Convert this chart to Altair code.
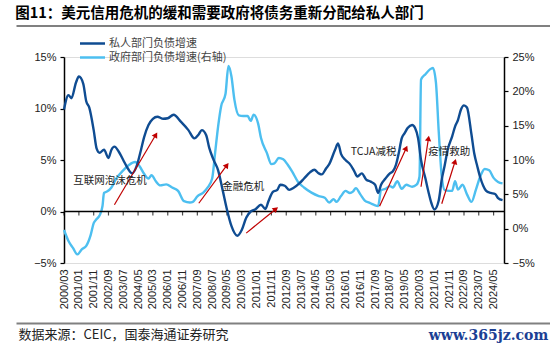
import math
import pandas as pd
import altair as alt

# ---------------- data ----------------
private_months = ["2000/03","2000/06","2000/08","2000/11","2001/01","2001/04","2001/06","2001/08","2001/11","2002/01",
                  "2002/03","2002/06","2002/09","2002/11","2003/01","2003/04","2003/07","2003/10","2004/01","2004/04",
                  "2004/07","2004/09","2004/12","2005/03","2005/06","2005/10","2006/01","2006/05","2006/10","2007/03",
                  "2007/07","2007/10","2007/12","2008/03","2008/05","2008/08","2008/11","2009/02","2009/05","2009/08",
                  "2009/12","2010/03","2010/06","2010/09","2010/12","2011/04","2011/07","2011/09","2011/12","2012/03",
                  "2012/05","2012/08","2012/11","2013/02","2013/06","2013/09","2014/01","2014/04","2014/07","2014/09",
                  "2014/12","2015/02","2015/06","2015/08","2015/10","2016/01","2016/04","2016/07","2016/09","2016/12",
                  "2017/03","2017/06","2017/09","2017/11","2018/01","2018/04","2018/07","2018/09","2018/11","2019/01",
                  "2019/03","2019/05","2019/07","2019/10","2019/12","2020/02","2020/04","2020/07","2020/09","2020/11",
                  "2021/01","2021/04","2021/06","2021/08","2021/10","2022/01","2022/03","2022/05","2022/07","2022/09",
                  "2022/11","2023/02","2023/04","2023/06","2023/08","2023/10","2023/12","2024/03","2024/06","2024/08",
                  "2024/11"]
private_values = [9.9,11.3,11.0,12.5,13.1,12.4,10.7,10.1,7.9,6.1,
                  5.7,6.0,5.2,6.0,6.3,5.8,5.0,4.2,3.7,4.4,
                  6.0,7.2,8.4,9.0,9.2,9.0,9.05,9.4,8.7,7.9,
                  7.1,7.5,7.9,7.4,6.2,5.0,4.0,2.1,0.2,-1.4,
                  -2.35,-1.8,-0.6,0.0,0.2,0.65,0.25,1.0,1.9,2.1,
                  2.6,2.5,2.1,2.3,2.75,3.2,3.8,4.05,3.7,3.6,
                  4.2,4.6,6.0,6.6,5.6,5.0,4.6,3.9,3.4,3.7,
                  3.1,2.9,2.6,1.8,2.6,3.2,3.7,3.9,4.5,5.7,
                  7.1,7.6,8.1,8.4,8.1,7.1,5.0,3.2,1.9,0.8,
                  0.2,1.1,3.1,4.5,6.0,7.3,8.25,8.9,9.9,10.3,
                  10.1,7.5,5.6,4.4,3.3,2.5,2.0,1.8,1.7,1.3,
                  1.1]

gov_months = ["2000/03","2000/06","2000/09","2000/12","2001/03","2001/06","2001/09","2001/11","2002/01","2002/03",
              "2002/05","2002/06","2002/08","2002/11","2003/02","2003/07","2003/11","2004/03","2004/06","2004/09",
              "2004/12","2005/02","2005/05","2005/08","2005/12","2006/04","2006/08","2006/12","2007/04","2007/06",
              "2007/09","2008/01","2008/04","2008/07","2008/09","2008/11","2009/01","2009/04","2009/06","2009/08",
              "2009/10","2010/01","2010/04","2010/07","2010/09","2010/11","2011/02","2011/04","2011/08","2011/11",
              "2012/01","2012/04","2012/07","2012/10","2013/01","2013/05","2013/09","2014/02","2014/07","2014/11",
              "2015/02","2015/05","2015/07","2015/10","2016/01","2016/04","2016/06","2016/08","2016/11","2017/02",
              "2017/05","2017/08","2017/11","2018/01","2018/04","2018/07","2018/09","2018/12","2019/03","2019/06",
              "2019/10","2020/01","2020/03","2020/04","2020/07","2020/10","2020/12","2021/02","2021/04","2021/06",
              "2021/08","2021/11","2022/01","2022/03","2022/05","2022/08","2022/11","2023/02","2023/05","2023/08",
              "2023/11","2024/02","2024/05","2024/08","2024/11"]
gov_values = [-0.2,-1.8,-2.8,-3.75,-3.0,-2.5,-0.9,0.8,1.4,1.9,
              3.3,5.2,5.4,6.0,7.2,8.5,9.3,9.7,9.1,8.0,
              7.3,7.8,6.9,6.3,6.45,6.0,5.5,4.0,3.8,3.9,
              4.7,5.25,6.0,7.3,11.1,14.9,17.8,19.6,23.7,22.2,
              18.8,16.5,16.4,16.4,15.7,16.6,15.3,13.2,11.0,9.4,
              9.5,10.3,10.1,9.3,8.3,6.8,6.0,5.25,4.75,4.5,
              3.8,4.3,3.9,4.75,5.5,5.2,5.4,5.9,5.0,4.1,
              3.8,3.5,3.3,5.6,5.8,6.2,6.0,6.9,5.8,6.4,
              6.1,6.4,7.6,21.7,22.5,23.2,23.4,21.3,14.0,7.6,
              5.6,5.5,5.5,6.9,5.7,6.4,5.0,3.9,5.6,7.6,
              8.7,8.5,7.4,6.8,6.6]

tick_labels = ["2000/03","2001/01","2001/11","2002/09","2003/07","2004/05","2005/03","2006/01","2006/11","2007/09",
               "2008/07","2009/05","2010/03","2011/01","2011/11","2012/09","2013/07","2014/05","2015/03","2016/01",
               "2016/11","2017/09","2018/07","2019/05","2020/03","2021/01","2021/11","2022/09","2023/07","2024/05"]

note_texts = ["互联网泡沫危机", "金融危机", "TCJA减税", "疫情救助"]
note_months = ["2002/10", "2010/04", "2017/08", "2021/11"]
note_values = [3.0, 2.4, 5.8, 5.8]

arrow_start_months = ["2003/01", "2007/10", "2010/06", "2017/12", "2020/04", "2021/06"]
arrow_start_values = [0.65, 0.8, -2.1, 0.5, 2.4, 0.75]
arrow_end_months = ["2005/05", "2009/05", "2012/02", "2019/06", "2020/09", "2022/03"]
arrow_end_values = [7.45, 4.5, 0.25, 6.15, 7.1, 4.85]

series_names = ["私人部门负债增速", "政府部门负债增速(右轴)"]
title_text = "图11：美元信用危机的缓和需要政府将债务重新分配给私人部门"
source_text = "数据来源：CEIC，国泰海通证券研究"
mark_text = "www.365jz.com"

assert len(private_months) == len(private_values)
assert len(gov_months) == len(gov_values)

# ---------------- helpers ----------------
W, H = 440, 206
DARK = "#0F4C92"
LIGHT = "#4DBFF0"
RED = "#C00000"
GREY = "#808080"
CJK = "Noto Sans CJK SC"
LAT = "Liberation Sans"


def d(s):
    return s + "/01"


def midx(s):
    y, m = map(int, s.split("/"))
    return (y - 2000) * 12 + m - 3


def dt(s):
    y, m = map(int, s.split("/"))
    return alt.DateTime(year=y, month=m, date=1)


N_MONTHS = 297  # 2000/03 .. 2024/12
LEFT_MIN, LEFT_MAX = -5, 15
px_m = W / N_MONTHS
px_v = H / (LEFT_MAX - LEFT_MIN)

priv_df = pd.DataFrame({"date": [d(s) for s in private_months], "v": private_values,
                        "s": series_names[0]})
gov_df = pd.DataFrame({"date": [d(s) for s in gov_months], "v": gov_values,
                       "s": series_names[1]})
tick_df = pd.DataFrame({"date": [d(s) for s in tick_labels], "z": 0})
zero_df = pd.DataFrame({"z": [0]})
note_df = pd.DataFrame({"date": [d(s) for s in note_months], "v": note_values, "t": note_texts})
angles = []
for sm, sv, em, ev in zip(arrow_start_months, arrow_start_values, arrow_end_months, arrow_end_values):
    dx = (midx(em) - midx(sm)) * px_m
    dy = (ev - sv) * px_v
    angles.append(math.degrees(math.atan2(dx, dy)))
arrow_df = pd.DataFrame({
    "d1": [d(s) for s in arrow_start_months], "v1": arrow_start_values,
    "d2": [d(s) for s in arrow_end_months], "v2": arrow_end_values,
    "ang": angles,
})
sep_df = pd.DataFrame({"a": [0, 1]})

# ---------------- scales / axes ----------------
x_scale = alt.Scale(domain=[dt("2000/03"), dt("2024/12")])
x_axis = alt.Axis(
    values=[dt(s) for s in tick_labels], format="%Y/%m", labelAngle=270,
    domain=False, ticks=False, grid=False, labelPadding=6, labelFlush=False,
    labelOverlap=False, labelBound=False, labelFont=LAT, labelFontSize=11, labelColor="#222",
    title=source_text, titleX=-46, titleY=71, titleAlign="left", titleBaseline="middle",
    titleFont=CJK, titleFontSize=13, titleFontWeight="normal", titleColor="#222", titleAngle=0,
)


def X(field="date"):
    return alt.X(field, type="temporal", scale=x_scale, axis=x_axis)


left_scale = alt.Scale(domain=[LEFT_MIN, LEFT_MAX], nice=False, zero=False)
left_axis = alt.Axis(
    orient="left", values=[-5, 0, 5, 10, 15], labelExpr="format(datum.value/100, '.0%')",
    grid=False, domainColor="#000", domainWidth=1.5, tickColor="#000", tickSize=4, tickWidth=1.2,
    labelFont=LAT, labelFontSize=11, labelColor="#222", labelPadding=4, title=None,
)


def YL(field):
    return alt.Y(field, type="quantitative", scale=left_scale, axis=left_axis)


right_scale = alt.Scale(domain=[-5, 25], nice=False, zero=False)
right_axis = alt.Axis(
    orient="right", values=[-5, 0, 5, 10, 15, 20, 25], labelExpr="format(datum.value/100, '.0%')",
    grid=False, domainColor="#000", domainWidth=1.5, tickColor="#000", tickSize=4, tickWidth=1.2,
    labelFont=LAT, labelFontSize=11, labelColor="#222", labelPadding=4,
    title=mark_text, titleAngle=0, titleX=-16, titleY=278, titleAlign="center",
    titleBaseline="middle", titleFont="DejaVu Serif", titleFontSize=14, titleFontWeight="bold",
    titleColor="#1C3F94",
)

color = alt.Color(
    "s:N", scale=alt.Scale(domain=series_names, range=[DARK, LIGHT]),
    legend=alt.Legend(
        orient="none", legendX=22, legendY=-20, direction="vertical", title=None,
        symbolType="M-2.5,0H2.5", symbolSize=100, symbolStrokeWidth=2.5,
        labelFont=CJK, labelFontSize=11, labelColor="#444", rowPadding=2, padding=0,
        labelOffset=10,
    ),
)

# ---------------- layers ----------------
gov_line = alt.Chart(gov_df).mark_line(strokeWidth=2.4, interpolate="monotone").encode(
    x=X(), y=alt.Y("v", type="quantitative", scale=right_scale, axis=right_axis), color=color,
)

zero_rule = alt.Chart(zero_df).mark_rule(color="#000", strokeWidth=1.5).encode(y=YL("z"))
zero_ticks = alt.Chart(tick_df).mark_tick(orient="vertical", size=4, thickness=1.2, color="#000",
                                          yOffset=2).encode(x=X(), y=YL("z"))
priv_line = alt.Chart(priv_df).mark_line(strokeWidth=2.4, interpolate="monotone").encode(
    x=X(), y=YL("v"), color=color,
)
arrow_body = alt.Chart(arrow_df).mark_rule(color=RED, strokeWidth=1.2).encode(
    x=X("d1"), x2="d2", y=YL("v1"), y2="v2",
)
arrow_head = alt.Chart(arrow_df).mark_point(shape="triangle-up", filled=True, size=40, color=RED,
                                            opacity=1).encode(
    x=X("d2"), y=YL("v2"), angle=alt.Angle("ang:Q", scale=None),
)
notes = alt.Chart(note_df).mark_text(font=CJK, fontSize=10.5, color="#222", align="center",
                                     baseline="middle").encode(x=X(), y=YL("v"), text="t:N")

left_group = alt.layer(zero_rule, zero_ticks, priv_line, arrow_body, arrow_head, notes)
base = alt.layer(gov_line, left_group).resolve_scale(y="independent", color="shared")


# decoration: page-wide separator lines drawn as bare axis domain lines
def separator(orient, offset):
    return alt.Chart(sep_df).mark_point(opacity=0).encode(
        x=alt.X("a:Q", scale=alt.Scale(domain=[0, 1], range=[-48, 486]),
                axis=alt.Axis(orient=orient, offset=offset, labels=False, ticks=False, grid=False,
                              domain=True, domainColor=GREY, domainWidth=2, title=None)),
    )


sep_top = separator("top", 31.5)
sep_bottom = separator("bottom", 60)

chart = alt.layer(base, sep_top, sep_bottom).resolve_scale(x="independent").properties(
    width=W, height=H,
    padding={"left": 64, "top": 57, "right": 46, "bottom": 86},
    autosize=alt.AutoSizeParams(type="none"),
    title=alt.TitleParams(
        text=title_text, anchor="start", dx=2, offset=4, font=CJK, fontSize=14.5,
        fontWeight="bold", color="#000",
    ),
).configure_view(stroke=None).configure(background="white")

chart.save("out.html", embed_options={"renderer": "svg", "actions": False})
